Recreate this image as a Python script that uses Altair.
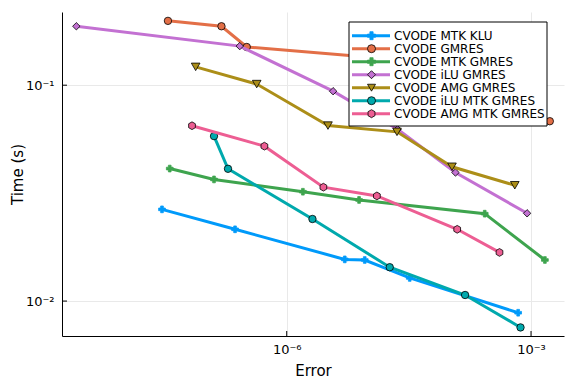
import altair as alt
import pandas as pd

names = ["CVODE MTK KLU", "CVODE GMRES", "CVODE MTK GMRES", "CVODE iLU GMRES",
         "CVODE AMG GMRES", "CVODE iLU MTK GMRES", "CVODE AMG MTK GMRES"]
colors = ["#009AFA", "#E36F47", "#3EA44E", "#C371D2", "#AC8E18", "#00A9AD", "#ED5E93"]
HEX = "M0,-1L0.866,-0.5L0.866,0.5L0,1L-0.866,0.5L-0.866,-0.5Z"
shapes = ["cross", "circle", "cross", "diamond", "triangle-down", "circle", HEX]
strokes = ["#009AFA", "black", "#3EA44E", "black", "black", "black", "black"]
sizes = [45, 55, 45, 55, 75, 55, 60]

err_mtk_klu = [2.94e-8, 2.32e-7, 5.16e-6, 9.08e-6, 3.24e-5, 6.95e-4]
time_mtk_klu = [0.0266, 0.0215, 0.0156, 0.0155, 0.0128, 0.00883]

err_gmres = [3.48e-8, 1.58e-7, 3.23e-7, 5.71e-5, 1.70e-3]
time_gmres = [0.1986, 0.1875, 0.1503, 0.1276, 0.0681]

err_mtk_gmres = [3.66e-8, 1.28e-7, 1.58e-6, 7.73e-6, 2.70e-4, 1.48e-3]
time_mtk_gmres = [0.0411, 0.0366, 0.0321, 0.0294, 0.0254, 0.0155]

err_ilu_gmres = [2.61e-9, 2.65e-7, 3.71e-6, 2.30e-5, 1.18e-4, 8.95e-4]
time_ilu_gmres = [0.1875, 0.1517, 0.0938, 0.0625, 0.0394, 0.0255]

err_amg_gmres = [7.62e-8, 4.28e-7, 3.21e-6, 2.26e-5, 1.07e-4, 6.32e-4]
time_amg_gmres = [0.1216, 0.1012, 0.0650, 0.0608, 0.0419, 0.0344]

err_ilu_mtk_gmres = [1.28e-7, 1.90e-7, 2.07e-6, 1.84e-5, 1.55e-4, 7.43e-4]
time_ilu_mtk_gmres = [0.0581, 0.0410, 0.0240, 0.01435, 0.01067, 0.00755]

err_amg_mtk_gmres = [6.87e-8, 5.32e-7, 2.82e-6, 1.28e-5, 1.24e-4, 4.10e-4]
time_amg_mtk_gmres = [0.0649, 0.0522, 0.0337, 0.0307, 0.0215, 0.0168]

errors = [err_mtk_klu, err_gmres, err_mtk_gmres, err_ilu_gmres,
          err_amg_gmres, err_ilu_mtk_gmres, err_amg_mtk_gmres]
times = [time_mtk_klu, time_gmres, time_mtk_gmres, time_ilu_gmres,
         time_amg_gmres, time_ilu_mtk_gmres, time_amg_mtk_gmres]

x_ticks = [1e-6, 1e-3]
y_ticks = [1e-2, 1e-1]

FONT = "DejaVu Sans"

x_scale = alt.Scale(type="log", domain=[1.74e-9, 2.54e-3], nice=False)
y_scale = alt.Scale(type="log", domain=[6.89e-3, 0.2183], nice=False)

x_enc = alt.X("error:Q", scale=x_scale,
              axis=alt.Axis(title="Error", values=x_ticks,
                            labelExpr="datum.value < 1e-4 ? '10⁻⁶' : '10⁻³'",
                            grid=True, tickSize=0, labelPadding=7,
                            titleY=34, titleBaseline="middle"))
y_enc = alt.Y("time:Q", scale=y_scale,
              axis=alt.Axis(title="Time (s)", values=y_ticks,
                            labelExpr="datum.value < 0.05 ? '10⁻²' : '10⁻¹'",
                            grid=True, tickSize=0, labelPadding=8,
                            titleX=-45, titleBaseline="middle"))

main_layers = []
for i, name in enumerate(names):
    sub = pd.DataFrame({"error": errors[i], "time": times[i],
                        "idx": list(range(len(errors[i])))})
    line = alt.Chart(sub).mark_line(color=colors[i], strokeWidth=3).encode(
        x=x_enc, y=y_enc, order="idx:Q")
    pts = alt.Chart(sub).mark_point(filled=True, shape=shapes[i], size=sizes[i],
                                    fill=colors[i], stroke=strokes[i],
                                    strokeWidth=0.8, opacity=1).encode(x=x_enc, y=y_enc)
    main_layers += [line, pts]

xtick_marks = alt.Chart(pd.DataFrame({"error": x_ticks})).mark_rule(
    color="black", strokeWidth=1).encode(x=x_enc, y=alt.value(324), y2=alt.value(319))
ytick_marks = alt.Chart(pd.DataFrame({"time": y_ticks})).mark_rule(
    color="black", strokeWidth=1).encode(y=y_enc, x=alt.value(0), x2=alt.value(5))

main = alt.layer(*main_layers, xtick_marks, ytick_marks)

legend_df = pd.DataFrame({"series": names, "row": list(range(len(names)))})
leg_y = alt.Y("row:Q", scale=alt.Scale(domain=[0, 6], range=[23.7, 101.7]), axis=None)
box = alt.Chart(pd.DataFrame({"a": [0]})).mark_rect(
    fill="white", stroke="black", strokeWidth=1).encode(
    x=alt.value(287), x2=alt.value(485), y=alt.value(10), y2=alt.value(114))
leg_line = alt.Chart(legend_df).mark_rule(strokeWidth=3).encode(
    x=alt.value(290), x2=alt.value(328), y=leg_y,
    color=alt.Color("series:N", scale=alt.Scale(domain=names, range=colors), legend=None))
leg_pts = alt.Chart(legend_df).mark_point(filled=True, size=64, strokeWidth=0.8, opacity=1).encode(
    x=alt.value(309.5), y=leg_y,
    shape=alt.Shape("series:N", scale=alt.Scale(domain=names, range=shapes), legend=None),
    fill=alt.Fill("series:N", scale=alt.Scale(domain=names, range=colors), legend=None),
    stroke=alt.Stroke("series:N", scale=alt.Scale(domain=names, range=strokes), legend=None))
leg_text = alt.Chart(legend_df).mark_text(
    align="left", baseline="middle", font=FONT, fontSize=12, color="black").encode(
    x=alt.value(332), y=leg_y, text="series:N")
legend = alt.layer(box, leg_line, leg_pts, leg_text)

chart = alt.layer(main, legend).resolve_scale(y="independent").properties(
    width=502, height=324,
    autosize=alt.AutoSizeParams(type="none"),
    padding={"left": 54, "top": 4, "right": 4, "bottom": 46},
).configure_view(stroke=None).configure_axis(
    domainColor="black", domainWidth=1, gridColor="#e9e9e9", gridWidth=1,
    labelFont=FONT, labelFontSize=13, labelColor="black",
    titleFont=FONT, titleFontSize=15, titleFontWeight="normal", titleColor="black",
)

chart.save("out.html", embed_options={"renderer": "svg", "actions": False})
